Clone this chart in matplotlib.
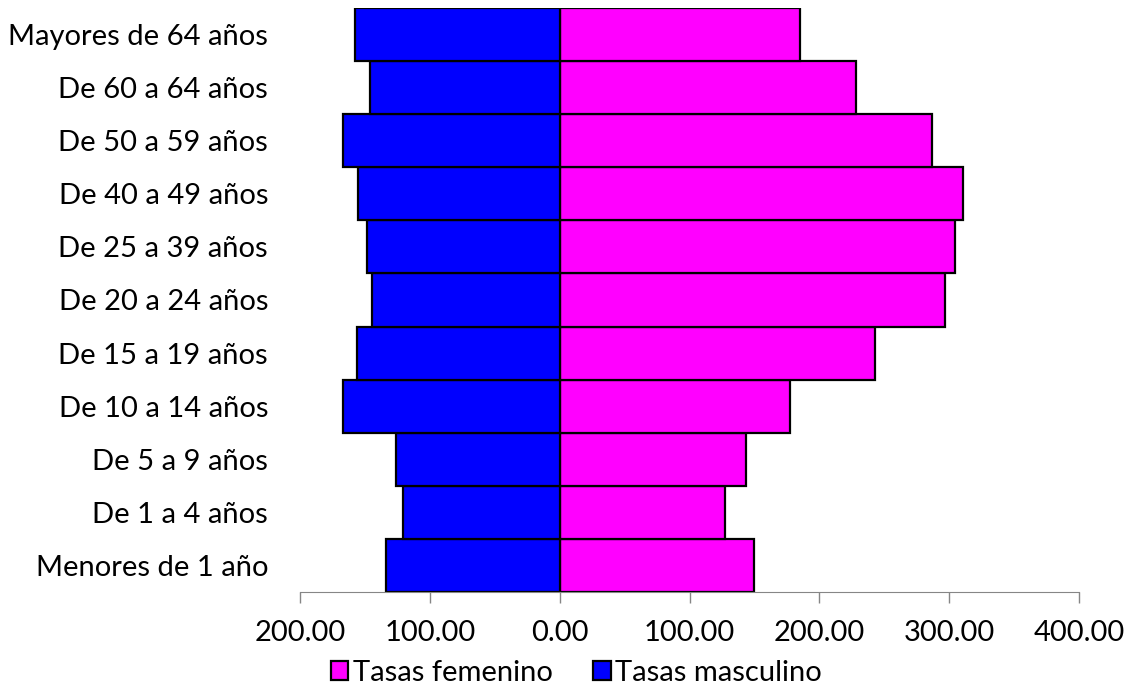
import matplotlib.pyplot as plt
from matplotlib.ticker import FuncFormatter

plt.rcParams["font.family"] = ["Lato", "DejaVu Sans"]

categorias = [
    "Menores de 1 año", "De 1 a 4 años", "De 5 a 9 años", "De 10 a 14 años",
    "De 15 a 19 años", "De 20 a 24 años", "De 25 a 39 años", "De 40 a 49 años",
    "De 50 a 59 años", "De 60 a 64 años", "Mayores de 64 años",
]
tasas_femenino = [149.8, 127.0, 143.8, 177.2, 242.8, 296.4, 304.4, 310.5, 286.7, 228.2, 185.4]
tasas_masculino = [134.0, 120.3, 126.0, 167.0, 155.9, 144.6, 148.5, 155.6, 166.7, 146.0, 157.5]
ticks_x = [-200, -100, 0, 100, 200, 300, 400]

fig = plt.figure(figsize=(11.3, 6.88), dpi=100)
ax = fig.add_axes([0.2655, 0.1395, 0.6894, 0.849])

pos = range(len(categorias))
ax.barh(pos, tasas_femenino, height=1.0, color="#FF00FF", edgecolor="black",
        linewidth=1.6, label="Tasas femenino", zorder=2)
ax.barh(pos, [-v for v in tasas_masculino], height=1.0, color="#0000FF",
        edgecolor="black", linewidth=1.6, label="Tasas masculino", zorder=2)

ax.set_xlim(-200, 400)
ax.set_ylim(-0.5, len(categorias) - 0.5)
ax.set_xticks(ticks_x)
ax.xaxis.set_major_formatter(FuncFormatter(lambda v, p: f"{abs(v):.2f}"))
ax.set_yticks(list(pos))
ax.set_yticklabels(categorias)

ax.tick_params(axis="x", direction="out", length=8, width=1, color="#868686",
               labelsize=21, pad=12)
ax.tick_params(axis="y", length=0, labelsize=21, pad=23)

for s in ["top", "right", "left"]:
    ax.spines[s].set_visible(False)
ax.spines["bottom"].set_color("#868686")
ax.axvline(0, color="#868686", linewidth=1, zorder=1)

handles, labels = ax.get_legend_handles_labels()
fig.legend(handles, labels, loc="center", bbox_to_anchor=(0.51, 0.022), ncol=2,
           frameon=False, fontsize=21, handlelength=0.6, handleheight=0.6,
           handletextpad=0.15, columnspacing=1.4, borderaxespad=0)

fig.savefig("out.png", dpi=100)
